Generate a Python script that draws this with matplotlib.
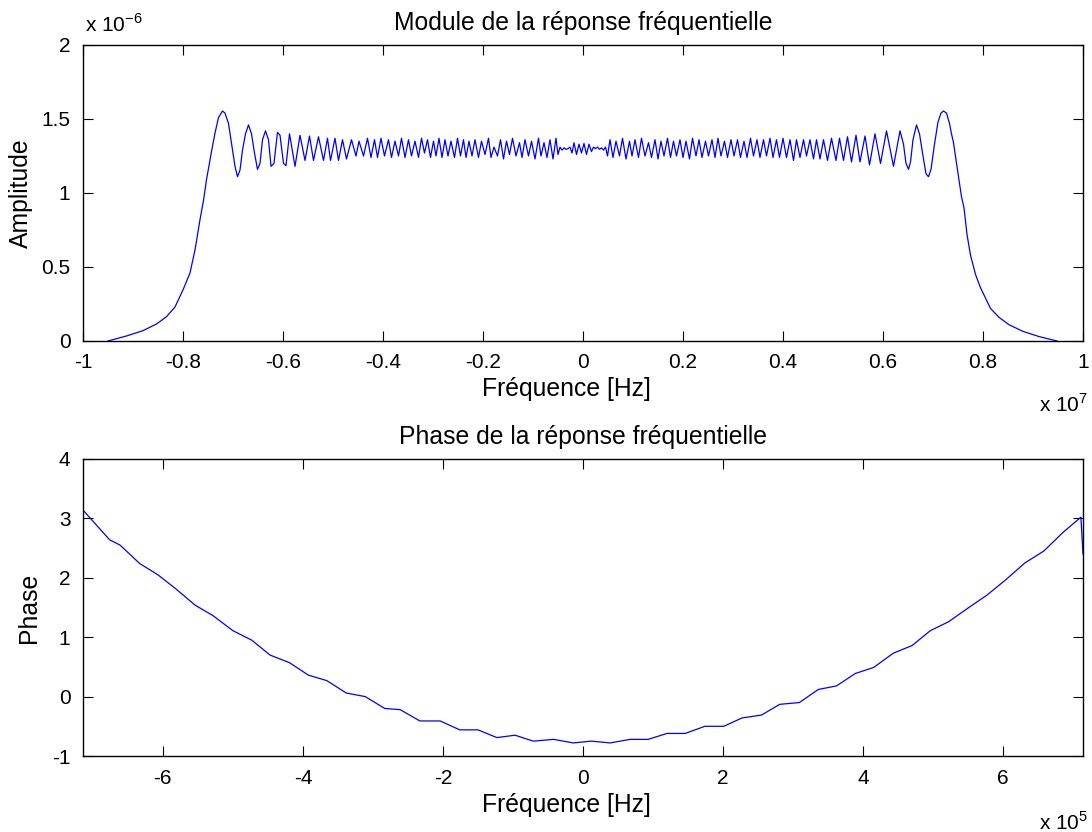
import matplotlib
matplotlib.use("Agg")
import matplotlib.pyplot as plt
from matplotlib.ticker import FuncFormatter

plt.rcParams["font.family"] = ["Liberation Sans", "DejaVu Sans"]
plt.rcParams["axes.unicode_minus"] = False
plt.rcParams["mathtext.fontset"] = "custom"
plt.rcParams["mathtext.rm"] = "Liberation Sans"

# --- module (frequency in 1e7 Hz, amplitude in 1e-6) ---
rise_x = [-0.950, -0.913, -0.880, -0.853, -0.833, -0.816, -0.800, -0.786, -0.776, -0.766,
          -0.759, -0.753, -0.743, -0.736, -0.729, -0.721, -0.716, -0.709, -0.703, -0.696,
          -0.691, -0.686, -0.681, -0.675, -0.669, -0.663, -0.657, -0.651, -0.646, -0.641,
          -0.635, -0.629, -0.624, -0.618, -0.611, -0.606, -0.599, -0.594, -0.587, -0.576,
          -0.566, -0.556, -0.547, -0.539, -0.529, -0.519, -0.511, -0.505, -0.496, -0.489,
          -0.481, -0.473, -0.463, -0.454, -0.448]
rise_y = [0.000, 0.034, 0.070, 0.115, 0.164, 0.230, 0.345, 0.460, 0.615, 0.820,
          0.950, 1.090, 1.280, 1.405, 1.510, 1.554, 1.540, 1.470, 1.335, 1.180,
          1.110, 1.155, 1.290, 1.400, 1.460, 1.400, 1.270, 1.160, 1.200, 1.360,
          1.420, 1.360, 1.180, 1.200, 1.410, 1.390, 1.200, 1.185, 1.400, 1.180,
          1.390, 1.220, 1.385, 1.220, 1.380, 1.220, 1.370, 1.220, 1.370, 1.220,
          1.360, 1.230, 1.360, 1.250, 1.350]

left_x = [-0.439, -0.431, -0.424, -0.417, -0.411, -0.404, -0.397, -0.389, -0.383, -0.376,
          -0.369, -0.363, -0.356, -0.349, -0.343, -0.336, -0.329, -0.323, -0.317, -0.311,
          -0.305, -0.299, -0.294, -0.288, -0.282, -0.276, -0.270, -0.264, -0.257, -0.251,
          -0.245, -0.239, -0.234, -0.228, -0.222, -0.216, -0.209, -0.203, -0.196, -0.189,
          -0.184, -0.178, -0.171, -0.165, -0.159, -0.153, -0.147, -0.141, -0.134, -0.127,
          -0.122, -0.116, -0.109, -0.103, -0.096, -0.089, -0.084, -0.078, -0.072, -0.066,
          -0.060, -0.054, -0.050]
left_y = [1.25, 1.37, 1.24, 1.36, 1.24, 1.37, 1.25, 1.36, 1.24, 1.35,
          1.25, 1.37, 1.24, 1.36, 1.25, 1.35, 1.24, 1.37, 1.27, 1.36,
          1.24, 1.35, 1.25, 1.37, 1.24, 1.36, 1.25, 1.35, 1.24, 1.37,
          1.25, 1.36, 1.24, 1.35, 1.25, 1.36, 1.24, 1.35, 1.26, 1.37,
          1.24, 1.31, 1.25, 1.36, 1.23, 1.35, 1.26, 1.37, 1.25, 1.34,
          1.24, 1.36, 1.25, 1.35, 1.23, 1.37, 1.25, 1.34, 1.24, 1.36,
          1.23, 1.37, 1.26]

center_x = [-0.046, -0.042, -0.038, -0.034, -0.030, -0.026, -0.022, -0.018, -0.013, -0.008,
            -0.003, 0.002, 0.007, 0.012, 0.017, 0.021, 0.025, 0.029, 0.033, 0.037,
            0.041, 0.045, 0.049]
center_y = [1.31, 1.29, 1.305, 1.295, 1.30, 1.31, 1.27, 1.34, 1.26, 1.33,
            1.27, 1.335, 1.26, 1.33, 1.28, 1.31, 1.30, 1.31, 1.295, 1.305,
            1.29, 1.31, 1.25]

right_x = [0.054, 0.060, 0.066, 0.073, 0.079, 0.086, 0.093, 0.098, 0.104, 0.111,
           0.117, 0.124, 0.131, 0.137, 0.144, 0.150, 0.156, 0.162, 0.169, 0.175,
           0.181, 0.187, 0.194, 0.200, 0.206, 0.213, 0.219, 0.226, 0.232, 0.238,
           0.245, 0.251, 0.258, 0.264, 0.270, 0.276, 0.283, 0.289, 0.296, 0.302,
           0.309, 0.315, 0.322, 0.328, 0.335, 0.341, 0.348, 0.354, 0.361, 0.367,
           0.374, 0.380, 0.387, 0.393, 0.400, 0.407, 0.414, 0.421, 0.427, 0.434,
           0.441, 0.447, 0.454, 0.461, 0.467, 0.474, 0.481, 0.489, 0.497, 0.506,
           0.513, 0.521, 0.529, 0.537, 0.546, 0.554, 0.564, 0.573, 0.584, 0.595,
           0.607, 0.621, 0.634]
right_y = [1.36, 1.24, 1.35, 1.25, 1.37, 1.23, 1.35, 1.25, 1.36, 1.24,
           1.37, 1.25, 1.34, 1.24, 1.36, 1.23, 1.35, 1.25, 1.37, 1.24,
           1.35, 1.25, 1.36, 1.24, 1.35, 1.23, 1.37, 1.25, 1.36, 1.24,
           1.35, 1.25, 1.36, 1.24, 1.37, 1.25, 1.35, 1.24, 1.36, 1.25,
           1.36, 1.24, 1.35, 1.24, 1.37, 1.25, 1.36, 1.24, 1.36, 1.25,
           1.37, 1.24, 1.36, 1.24, 1.37, 1.24, 1.36, 1.22, 1.36, 1.24,
           1.36, 1.25, 1.36, 1.23, 1.36, 1.23, 1.36, 1.22, 1.37, 1.22,
           1.37, 1.22, 1.38, 1.21, 1.39, 1.21, 1.385, 1.19, 1.40, 1.20,
           1.42, 1.18, 1.42]

fall_x = [0.641, 0.646, 0.651, 0.655, 0.660, 0.667, 0.673, 0.680, 0.686, 0.691,
          0.696, 0.703, 0.710, 0.716, 0.721, 0.727, 0.733, 0.737, 0.741, 0.747,
          0.751, 0.757, 0.762, 0.768, 0.775, 0.785, 0.795, 0.805, 0.815, 0.832,
          0.852, 0.880, 0.912, 0.948]
fall_y = [1.33, 1.20, 1.16, 1.21, 1.36, 1.46, 1.40, 1.25, 1.13, 1.11,
          1.16, 1.33, 1.48, 1.54, 1.554, 1.54, 1.47, 1.40, 1.34, 1.20,
          1.11, 0.975, 0.90, 0.72, 0.58, 0.45, 0.36, 0.29, 0.22, 0.16,
          0.11, 0.065, 0.03, 0.0]

# --- phase (frequency in 1e5 Hz) ---
phase_x = [-7.14, -6.76, -6.61, -6.33, -6.07, -5.81, -5.54, -5.28, -5.00, -4.73,
           -4.47, -4.19, -3.92, -3.66, -3.38, -3.11, -2.83, -2.61, -2.33, -2.04,
           -1.76, -1.50, -1.23, -0.97, -0.71, -0.42, -0.14, 0.12, 0.39, 0.67,
           0.93, 1.20, 1.46, 1.74, 2.01, 2.27, 2.55, 2.81, 3.09, 3.36,
           3.62, 3.89, 4.15, 4.43, 4.70, 4.96, 5.22, 5.51, 5.77, 6.03,
           6.31, 6.58, 6.86, 7.11, 7.14]
phase_y = [3.14, 2.64, 2.55, 2.24, 2.05, 1.81, 1.54, 1.36, 1.11, 0.95,
           0.70, 0.57, 0.36, 0.27, 0.06, 0.00, -0.20, -0.22, -0.41, -0.41,
           -0.56, -0.56, -0.69, -0.65, -0.75, -0.72, -0.78, -0.75, -0.78, -0.72,
           -0.72, -0.62, -0.62, -0.50, -0.50, -0.36, -0.31, -0.13, -0.10, 0.12,
           0.18, 0.39, 0.49, 0.73, 0.86, 1.11, 1.26, 1.50, 1.71, 1.96,
           2.25, 2.45, 2.77, 3.02, 2.40]

amp_xticks = [-1, -0.8, -0.6, -0.4, -0.2, 0, 0.2, 0.4, 0.6, 0.8, 1]
amp_yticks = [0, 0.5, 1, 1.5, 2]
phase_xticks = [-6, -4, -2, 0, 2, 4, 6]
phase_yticks = [-1, 0, 1, 2, 3, 4]

amp_x = rise_x + left_x + center_x + right_x + fall_x
amp_y = rise_y + left_y + center_y + right_y + fall_y

W, H = 1092, 832
fig = plt.figure(figsize=(W / 100, H / 100), dpi=100)
ax1 = fig.add_axes([83 / W, 1 - 341 / H, 1000 / W, 296 / H])
ax2 = fig.add_axes([83 / W, 1 - 756 / H, 1000 / W, 297 / H])

fmt = FuncFormatter(lambda v, p: "%g" % v)
tick_fs = 15
label_fs = 17.8

for ax in (ax1, ax2):
    ax.tick_params(direction="in", top=True, right=True, length=7, width=0.8,
                   labelsize=tick_fs, pad=9)
    for s in ax.spines.values():
        s.set_linewidth(1.0)
    ax.xaxis.set_major_formatter(fmt)
    ax.yaxis.set_major_formatter(fmt)

ax1.plot(amp_x, amp_y, color="#0000ff", lw=0.9)
ax1.set_xlim(-1, 1)
ax1.set_ylim(0, 2)
ax1.set_xticks(amp_xticks)
ax1.set_yticks(amp_yticks)
ax1.set_title("Module de la réponse fréquentielle", fontsize=label_fs, pad=11)
ax1.set_xlabel("Fréquence [Hz]", fontsize=label_fs)
ax1.xaxis.set_label_coords(0.483, -0.12)
ax1.set_ylabel("Amplitude", fontsize=label_fs, labelpad=6)

ax2.plot(phase_x, phase_y, color="#0000ff", lw=0.9)
ax2.set_xlim(-7.14, 7.14)
ax2.set_ylim(-1, 4)
ax2.set_xticks(phase_xticks)
ax2.set_yticks(phase_yticks)
ax2.set_title("Phase de la réponse fréquentielle", fontsize=label_fs, pad=11)
ax2.set_xlabel("Fréquence [Hz]", fontsize=label_fs)
ax2.xaxis.set_label_coords(0.483, -0.125)
ax2.set_ylabel("Phase", fontsize=label_fs, labelpad=8)

# MATLAB style exponent labels
fig.text(85 / W, 1 - 36 / H, r"x 10$^{\mathregular{-6}}$", fontsize=tick_fs, ha="left", va="bottom")
fig.text(1088 / W, 1 - 405 / H, r"x 10$^{\mathregular{7}}$", fontsize=tick_fs, ha="right", va="center")
fig.text(1088 / W, 1 - 822 / H, r"x 10$^{\mathregular{5}}$", fontsize=tick_fs, ha="right", va="center")

fig.savefig("out.png", dpi=100)
